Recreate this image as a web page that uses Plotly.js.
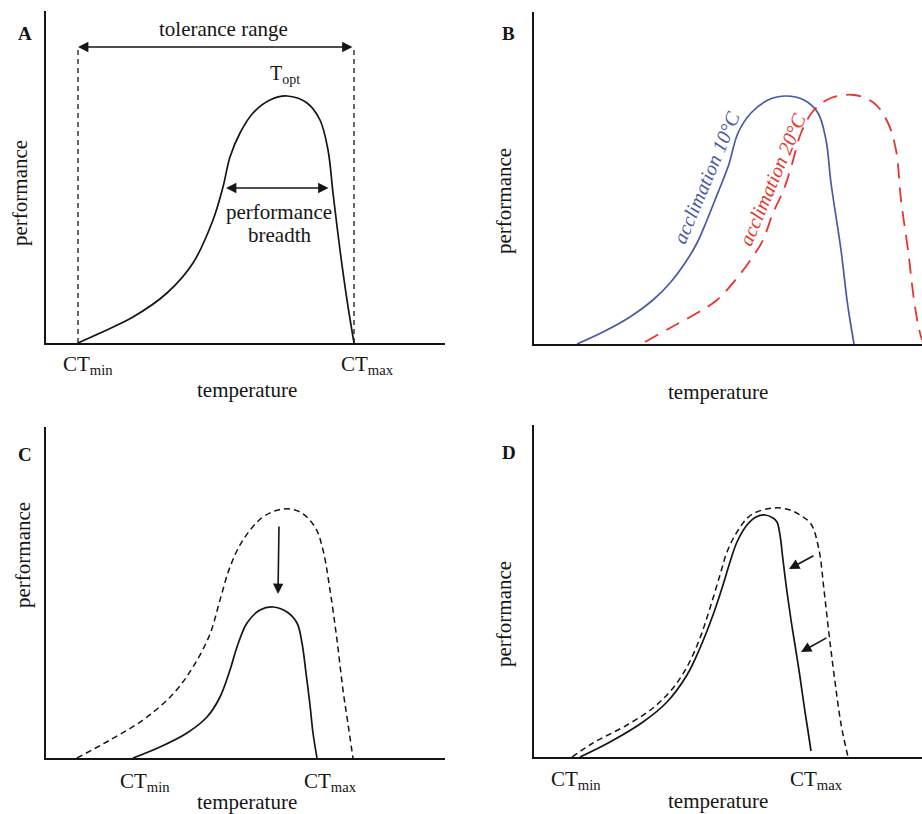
<!DOCTYPE html>
<html><head><meta charset="utf-8">
<script src="https://cdn.plot.ly/plotly-3.0.1.min.js"></script>
<style>html,body{margin:0;padding:0;background:#fff}#chart{width:922px;height:814px}</style>
</head><body><div id="chart"></div>
<script>
// ---------- Panel A : thermal performance curve ----------
const tempA = [32, 54, 87, 121, 147, 167, 177, 184, 194, 207, 224, 241, 261, 274, 282, 287, 294, 301, 308];
const perfA = [0, 10, 26, 50, 80, 123, 156, 186, 210, 230, 243, 247, 240, 223, 193, 150, 93, 43, 0];
const toleranceX = [32, 308];
const toleranceTop = 296;
const breadthX = [180, 284];
const breadthY = 155;

// ---------- Panel B : acclimation ----------
const temp10 = [43, 69, 96, 119, 136, 151, 163, 173, 181, 189, 195, 204, 217, 234, 252, 270, 284, 292, 297, 307, 313, 316, 320];
const perf10 = [0, 12, 27, 44, 61, 81, 101, 124, 144, 164, 180, 211, 231, 244, 248, 244, 231, 204, 161, 94, 44, 24, 0];
const temp20 = [111, 136, 163, 183, 203, 218, 229, 239, 250, 258, 267, 280, 297, 320, 340, 354, 362, 367, 374, 380, 385, 388];
const perf20 = [2, 16, 31, 44, 66, 86, 104, 131, 155, 180, 211, 234, 246, 249, 241, 221, 194, 144, 94, 44, 15, 4];

// ---------- Panel C : reduced performance ----------
const tempCbefore = [31, 64, 97, 127, 147, 164, 174, 184, 197, 217, 237, 254, 269, 277, 284, 291, 297, 302, 307];
const perfCbefore = [0, 18, 38, 64, 91, 124, 158, 191, 218, 241, 249, 246, 231, 208, 168, 118, 68, 34, 0];
const tempCafter = [87, 114, 141, 161, 174, 184, 191, 201, 214, 227, 241, 251, 256, 260, 264, 267, 271];
const perfCafter = [0, 11, 25, 41, 61, 88, 111, 135, 148, 151, 146, 135, 115, 85, 53, 25, 0];
const arrowC = [233, 233, 232, 164];   // tail x, tail y, tip x, tip y

// ---------- Panel D : reduced CTmax ----------
const tempDbefore = [38, 59, 93, 119, 139, 154, 166, 176, 186, 193, 203, 217, 239, 256, 266, 277, 285, 290, 295, 300, 307, 314];
const perfDbefore = [0, 14, 32, 49, 69, 92, 119, 149, 182, 205, 225, 242, 249, 247, 242, 233, 207, 167, 123, 83, 33, 0];
const tempDafter = [46, 76, 109, 133, 153, 166, 179, 189, 196, 203, 213, 222, 231, 239, 243, 246, 249, 253, 257, 261, 266, 270, 274, 277];
const perfDafter = [0, 15, 35, 55, 82, 109, 142, 172, 195, 215, 232, 240, 242, 239, 235, 222, 197, 165, 137, 112, 80, 52, 26, 6];
const arrowD1 = [281, 202, 255, 188];
const arrowD2 = [294, 120, 267, 105];

// ---------- Labels ----------
const panelLetters = ['A', 'B', 'C', 'D'];
const ctLabels = ['CT<sub>min</sub>', 'CT<sub>max</sub>'];
const xTitle = 'temperature';
const yTitle = 'performance';

// ---------- Layout helpers ----------
const W = 922, H = 814;
const FONT = '"Liberation Serif", "Times New Roman", serif';
const INK = '#151515';
const BLUE = '#4a58a6';
const RED = '#e8342c';
const boxes = [
  {l: 46, r: 445, t: 11, b: 343},
  {l: 534, r: 922, t: 12, b: 344},
  {l: 46, r: 445, t: 427, b: 758},
  {l: 534, r: 922, t: 425, b: 757}
];
const refs = [['x', 'y'], ['x2', 'y2'], ['x3', 'y3'], ['x4', 'y4']];

function axisPair(i) {
  const b = boxes[i];
  const base = {showline: true, linecolor: INK, linewidth: 1.6, showgrid: false, zeroline: false,
                showticklabels: false, ticks: '', fixedrange: true};
  return [
    Object.assign({}, base, {domain: [b.l / W, b.r / W], range: [0, b.r - b.l], anchor: refs[i][1]}),
    Object.assign({}, base, {domain: [1 - b.b / H, 1 - b.t / H], range: [0, b.b - b.t], anchor: refs[i][0]})
  ];
}

function line(i, x, y, color, dash, width) {
  return {x: x, y: y, xaxis: refs[i][0], yaxis: refs[i][1], mode: 'lines', hoverinfo: 'skip',
          line: {color: color, width: width || 1.7, dash: dash || 'solid', shape: 'spline', smoothing: 1},
          showlegend: false};
}

// text placed in paper coordinates, positioned relative to panel i's axes (same units as the axes)
function txt(i, x, y, text, size, extra) {
  const b = boxes[i];
  return Object.assign({xref: 'paper', yref: 'paper',
          x: (b.l + x) / W, y: 1 - (b.b - y) / H, text: text, showarrow: false,
          xanchor: 'center', yanchor: 'middle',
          font: {family: FONT, size: size || 20, color: INK}}, extra || {});
}

function arrow(i, a, both) {
  return {xref: refs[i][0], yref: refs[i][1], axref: refs[i][0], ayref: refs[i][1],
          ax: a[0], ay: a[1], x: a[2], y: a[3], text: '', showarrow: true,
          arrowhead: 2, arrowsize: 1.3, arrowwidth: 1.6, arrowcolor: INK,
          arrowside: both ? 'end+start' : 'end', startarrowhead: 2, startarrowsize: 1.3,
          standoff: 0, startstandoff: 0};
}

const traces = [
  line(0, tempA, perfA, INK),
  line(0, [toleranceX[0], toleranceX[0]], [0, toleranceTop], INK, '5px,4px', 1.3),
  line(0, [toleranceX[1], toleranceX[1]], [0, toleranceTop], INK, '5px,4px', 1.3),
  line(1, temp10, perf10, BLUE),
  line(1, temp20, perf20, RED, '15px,9px', 1.8),
  line(2, tempCbefore, perfCbefore, INK, '6px,4px', 1.5),
  line(2, tempCafter, perfCafter, INK),
  line(3, tempDbefore, perfDbefore, INK, '6px,4px', 1.5),
  line(3, tempDafter, perfDafter, INK)
];

const annotations = [];
// panel letters, axis titles
const letterPos = [[-21, 310], [-25, 311], [-21, 304], [-25, 305]];
const yTitleX = [-26, -30, -23, -30];
const yTitleY = [150, 143, 203, 143];
const xTitleX = [201, 184, 201, 184];
const xTitleY = [-47, -48, -44, -44];
for (let i = 0; i < 4; i++) {
  annotations.push(txt(i, letterPos[i][0], letterPos[i][1], '<b>' + panelLetters[i] + '</b>', 19));
  annotations.push(txt(i, yTitleX[i], yTitleY[i], yTitle, 21, {textangle: -90}));
  annotations.push(txt(i, xTitleX[i], xTitleY[i], xTitle, 21));
}
// CT labels
const ctPos = {0: [42, 321, -22], 2: [99, 284, -24], 3: [42, 282, -23]};
Object.keys(ctPos).forEach(k => {
  const p = ctPos[k];
  annotations.push(txt(+k, p[0], p[2], ctLabels[0], 21));
  annotations.push(txt(+k, p[1], p[2], ctLabels[1], 21));
});
// Panel A annotations
annotations.push(arrow(0, [toleranceX[1], toleranceTop, toleranceX[0], toleranceTop], true));
annotations.push(txt(0, 177, 314, 'tolerance range', 21));
annotations.push(txt(0, 239, 268, 'T<sub>opt</sub>', 20));
annotations.push(arrow(0, [breadthX[1], breadthY, breadthX[0], breadthY], true));
annotations.push(txt(0, 233, 131, 'performance', 21));
annotations.push(txt(0, 233, 108, 'breadth', 21));
// Panel B labels
annotations.push(txt(1, 172, 166, '<i>acclimation 10°C</i>', 20, {textangle: -67, font: {family: FONT, size: 20, color: BLUE}}));
annotations.push(txt(1, 238, 164, '<i>acclimation 20°C</i>', 20, {textangle: -67, font: {family: FONT, size: 20, color: RED}}));
// Panel C / D arrows
annotations.push(arrow(2, arrowC, false));
annotations.push(arrow(3, arrowD1, false));
annotations.push(arrow(3, arrowD2, false));

const layout = {
  width: W, height: H, margin: {l: 0, r: 0, t: 0, b: 0},
  paper_bgcolor: '#fff', plot_bgcolor: 'rgba(0,0,0,0)',
  showlegend: false, hovermode: false,
  annotations: annotations
};
for (let i = 0; i < 4; i++) {
  const [xa, ya] = axisPair(i);
  layout[i === 0 ? 'xaxis' : 'xaxis' + (i + 1)] = xa;
  layout[i === 0 ? 'yaxis' : 'yaxis' + (i + 1)] = ya;
}

Plotly.newPlot('chart', traces, layout, {displayModeBar: false, staticPlot: true});
</script>
</body></html>
